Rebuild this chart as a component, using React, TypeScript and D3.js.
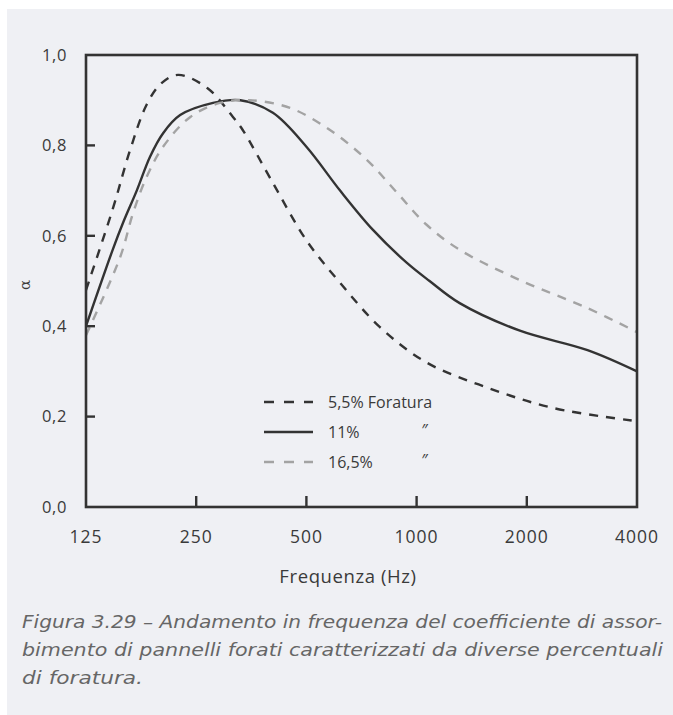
import * as d3 from 'd3'
import React from "react";

// frequenze (Hz) e coefficiente di assorbimento per le tre forature
const freq55 = [125, 148, 165, 183, 200, 223, 268, 315, 335, 405, 500, 618, 794, 1063, 1550, 2360, 4000]
const alpha55 = [0.48, 0.66, 0.79, 0.89, 0.936, 0.956, 0.927, 0.863, 0.834, 0.717, 0.59, 0.496, 0.398, 0.32, 0.265, 0.219, 0.19]

const freq11 = [125, 148, 158, 172, 187, 203, 226, 278, 330, 405, 500, 618, 760, 941, 1085, 1311, 1915, 2930, 4000]
const alpha11 = [0.40, 0.57, 0.63, 0.70, 0.775, 0.827, 0.867, 0.894, 0.90, 0.872, 0.797, 0.70, 0.613, 0.54, 0.50, 0.451, 0.39, 0.347, 0.30]

const freq165 = [125, 155, 168, 183, 203, 241, 290, 350, 451, 580, 731, 885, 1063, 1311, 1915, 2930, 4000]
const alpha165 = [0.38, 0.553, 0.65, 0.73, 0.797, 0.863, 0.894, 0.90, 0.883, 0.834, 0.768, 0.695, 0.625, 0.569, 0.502, 0.44, 0.387]

const xTicks = [125, 250, 500, 1000, 2000, 4000]
const yTicks = [0, 0.2, 0.4, 0.6, 0.8, 1.0]

const legendLabels = ["5,5% Foratura", "11%", "16,5%"]
const captionLines = [
    "Figura 3.29 – Andamento in frequenza del coefficiente di assor-",
    "bimento di pannelli forati caratterizzati da diverse percentuali",
    "di foratura.",
]
const captionWidths = [640, 641, 121]

const W = 673
const H = 715
const FONT = "'Open Sans', sans-serif"
const INK = "#333333"

const App: React.FC = () => {
    const x = d3.scaleLog().domain([125, 4000]).range([86, 637])
    const y = d3.scaleLinear().domain([0, 1]).range([507, 55])

    const line = d3.line<[number, number]>()
        .x(d => x(d[0]))
        .y(d => y(d[1]))
        .curve(d3.curveCatmullRom.alpha(0.5))

    const series = [
        { f: freq55, a: alpha55, color: INK, dash: "9 8" },
        { f: freq11, a: alpha11, color: INK, dash: "none" },
        { f: freq165, a: alpha165, color: "#a3a3a3", dash: "9 8" },
    ]

    return (
        <svg width={W} height={H} style={{ position: 'absolute', left: 0, top: 0 }}>
            <rect x={7} y={9} width={W - 7} height={H - 9} fill="#eff0f4" />

            {series.map((s, i) => (
                <path key={i}
                    d={line(s.f.map((f, j) => [f, s.a[j]] as [number, number])) || ''}
                    fill="none" stroke={s.color} strokeWidth={2.4}
                    strokeDasharray={s.dash} />
            ))}

            {/* frame */}
            <rect x={x(125)} y={y(1)} width={x(4000) - x(125)} height={y(0) - y(1)}
                fill="none" stroke={INK} strokeWidth={2.6} />

            <g fontFamily={FONT} fill="#3a3a3a">
                {yTicks.map(t => (
                    <g key={t}>
                        {t > 0 && t < 1 &&
                            <line x1={x(125)} x2={x(125) + 9} y1={y(t)} y2={y(t)} stroke={INK} strokeWidth={2.4} />}
                        <text x={67} y={y(t)} dy="0.35em" textAnchor="end" fontSize={16.5} letterSpacing={0.6}>
                            {d3.format(".1f")(t).replace('.', ',')}
                        </text>
                    </g>
                ))}

                {xTicks.map(t => (
                    <g key={t}>
                        {t > 125 && t < 4000 &&
                            <line x1={x(t)} x2={x(t)} y1={y(0)} y2={y(0) - 11} stroke={INK} strokeWidth={2.4} />}
                        <text x={x(t)} y={537} dy="0.35em" textAnchor="middle" fontSize={17.5} letterSpacing={1}>{t}</text>
                    </g>
                ))}

                <text x={348} y={577} dy="0.35em" textAnchor="middle" fontSize={18.5} letterSpacing={0.6}>Frequenza (Hz)</text>

                <text transform="translate(25,285) rotate(-90)" textAnchor="middle" dy="0.35em"
                    fontFamily="'DejaVu Serif', serif" fontSize={15}>α</text>

                {/* legend */}
                {series.map((s, i) => (
                    <g key={i} transform={`translate(0, ${402 + i * 30})`}>
                        <line x1={264} x2={313} y1={0} y2={0} stroke={s.color} strokeWidth={2.4}
                            strokeDasharray={s.dash === "none" ? "none" : "10 10"} />
                        <text x={328} y={0} dy="0.35em" fontSize={16}>{legendLabels[i]}</text>
                        {i > 0 && <text x={421} y={-2} dy="0.35em" fontSize={16} fontStyle="italic">″</text>}
                    </g>
                ))}

                {captionLines.map((l, i) => (
                    <text key={i} x={22} y={622 + i * 28} dy="0.35em" fontSize={18}
                        fontFamily="'DejaVu Sans', sans-serif"
                        fontStyle="italic" fill="#666666"
                        textLength={captionWidths[i]} lengthAdjust="spacingAndGlyphs">{l}</text>
                ))}
            </g>
        </svg>
    )
}

export default App;
